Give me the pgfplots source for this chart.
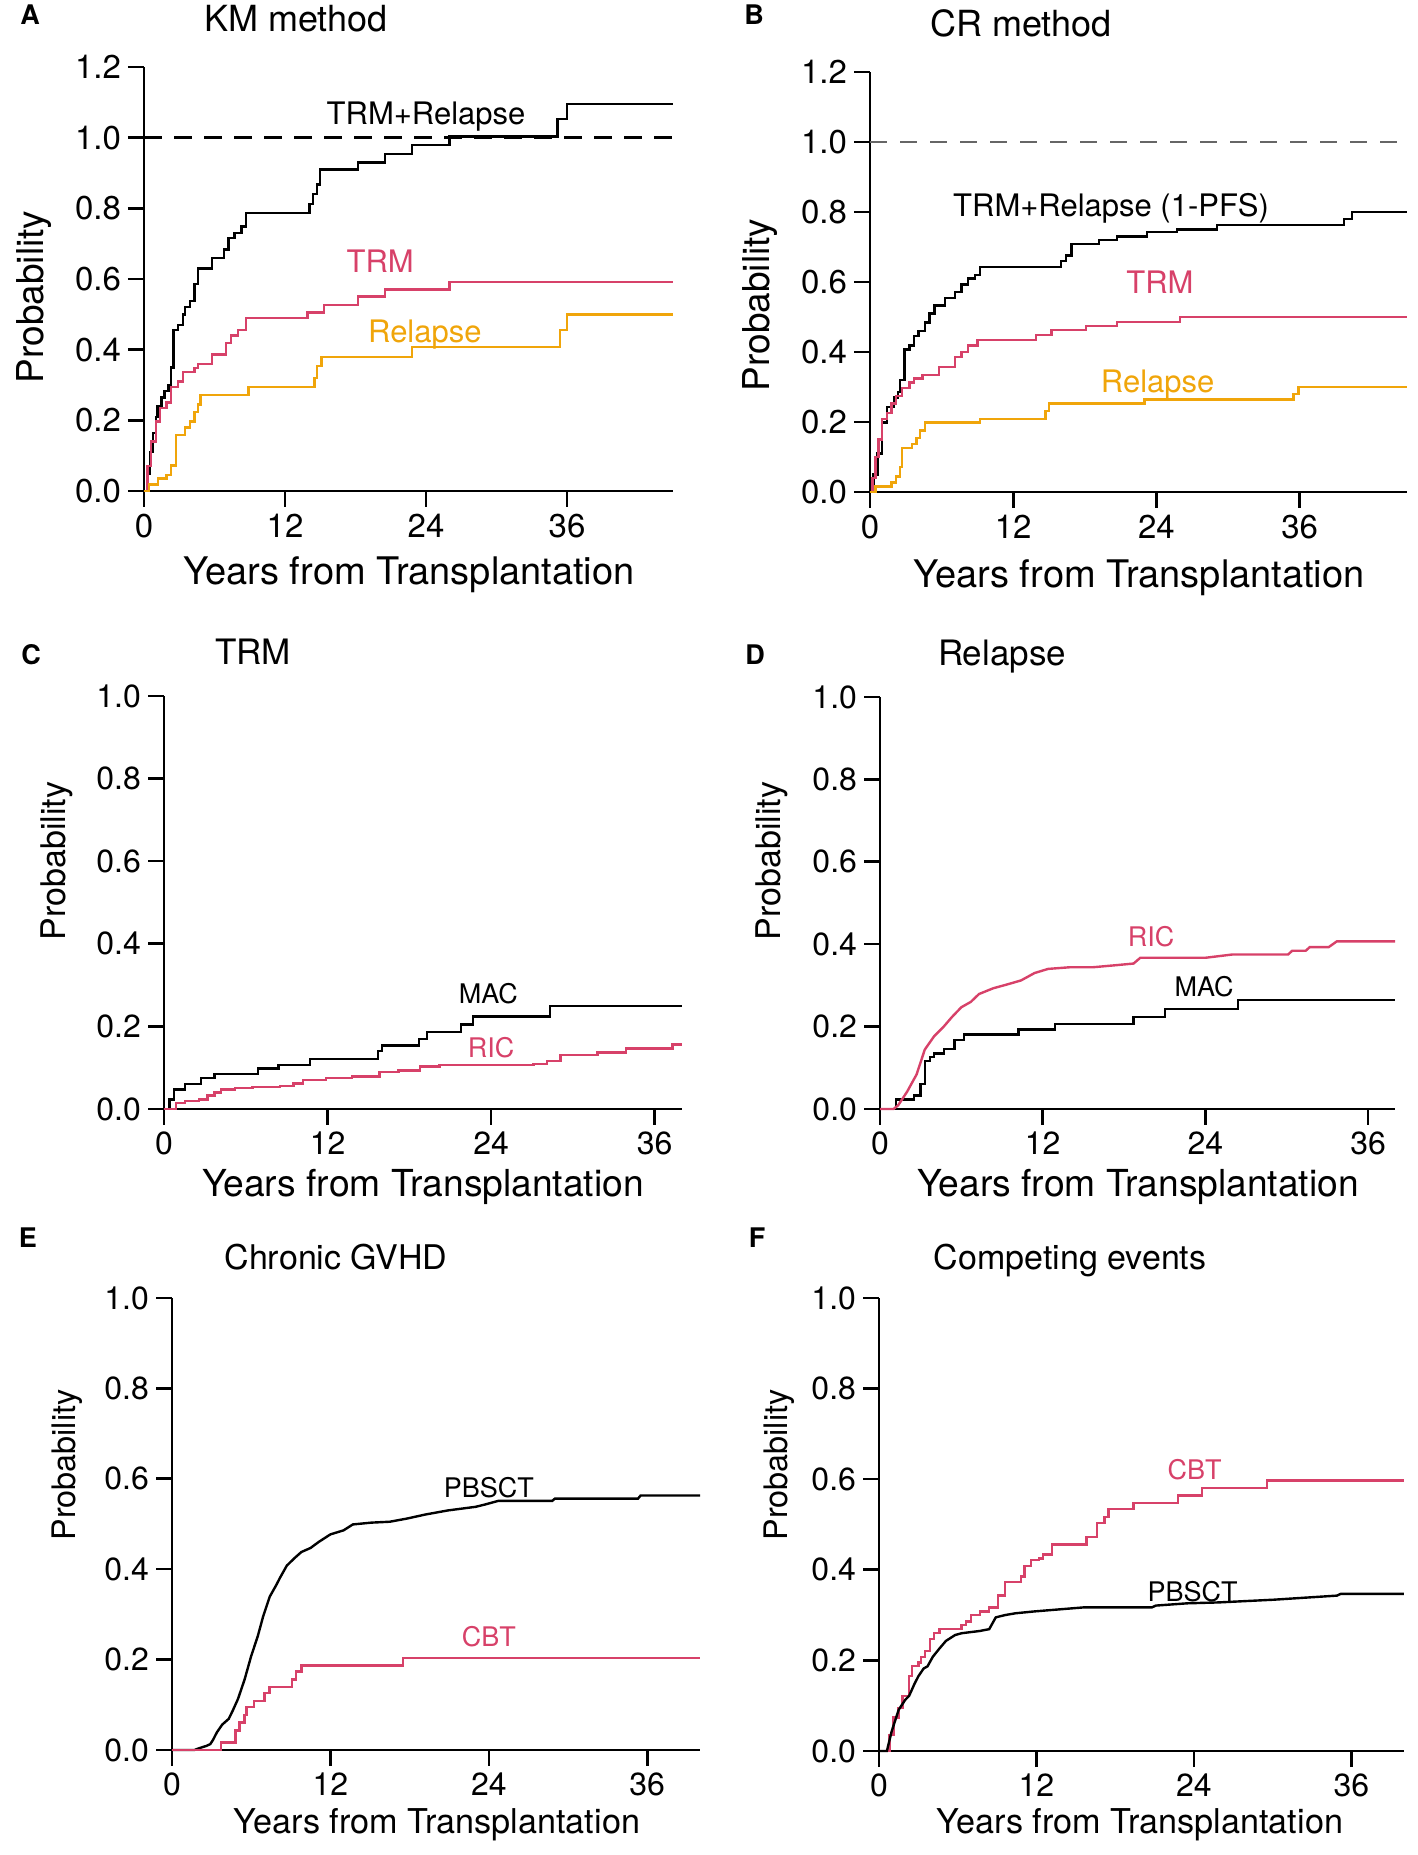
\documentclass[border=0pt]{standalone}
\usepackage{fontspec}
\setmainfont{TeX Gyre Heros}
\usepackage{pgfplots}
\pgfplotsset{compat=1.18}
\definecolor{kpink}{RGB}{215,65,105}
\definecolor{korange}{RGB}{240,165,10}
\newcommand{\fs}[1]{\fontsize{#1}{#1}\selectfont}
\pgfplotsset{
  km/.style={
    scale only axis, axis lines=left, axis line style={-, line width=1.35pt},
    tick align=outside, major tick length=8pt,
    tick style={line width=1.3pt, black},
    xmin=0, ymin=0, xtick={0,12,24,36},
    /pgf/number format/assume math mode=true,
    ticklabel style={font=\fs{16.5}},
    yticklabel style={/pgf/number format/.cd, fixed, fixed zerofill, precision=1},
    clip=false, anchor=south west,
  },
  curve/.style={line width=1.2pt},
}
\begin{document}
\begin{tikzpicture}
\path[use as bounding box] (0,0) rectangle (708.5pt,927.5pt);
% ---------------- A ----------------
\begin{axis}[km, at={(72pt,682pt)}, width=264.4pt, height=212pt,
  xmax=45, ymax=1.2, ytick={0,0.2,0.4,0.6,0.8,1.0,1.2}]
\addplot[black, line width=1.2pt, dash pattern=on 9pt off 6pt] coordinates {(0,1) (45,1)};
\addplot[const plot, curve, black] coordinates {(0,0)(0.25,0.05)(0.5,0.11)(0.77,0.164)(1.0,0.21)(1.16,0.24)(1.5,0.265)(1.74,0.283)(2.1,0.30)(2.3,0.35)(2.5,0.456)(2.9,0.47)(3.3,0.50)(3.5,0.52)(3.9,0.537)(4.3,0.586)(4.6,0.63)(5.8,0.66)(6.8,0.683)(7.2,0.716)(7.7,0.73)(8.3,0.748)(8.7,0.786)(14.1,0.813)(14.4,0.84)(14.7,0.867)(15.0,0.91)(18.2,0.93)(20.5,0.954)(22.8,0.98)(26.0,1.003)(35.2,1.053)(36.0,1.096)(45,1.096)};
\addplot[const plot, curve, kpink] coordinates {(0,0)(0.3,0.07)(0.6,0.14)(1.0,0.197)(1.35,0.235)(1.9,0.25)(2.3,0.294)(2.9,0.31)(3.3,0.337)(4.3,0.348)(4.6,0.359)(5.8,0.386)(7.0,0.418)(7.4,0.44)(8.0,0.456)(8.7,0.489)(13.9,0.505)(15.3,0.527)(18.2,0.55)(20.5,0.57)(26.0,0.591)(45,0.591)};
\addplot[const plot, curve, korange] coordinates {(0,0)(0.4,0.018)(1.2,0.035)(1.9,0.045)(2.3,0.072)(2.7,0.159)(3.5,0.18)(3.9,0.197)(4.3,0.224)(4.6,0.245)(4.8,0.272)(8.9,0.294)(14.5,0.32)(14.7,0.354)(15.1,0.38)(22.8,0.408)(35.4,0.456)(36.0,0.50)(45,0.50)};
\node[font=\fs{15.5}] at (axis cs:24,1.06) {TRM+Relapse};
\node[font=\fs{15.5}, text=kpink] at (axis cs:20.1,0.65) {TRM};
\node[font=\fs{15.5}, text=korange] at (axis cs:23.9,0.443) {Relapse};
\end{axis}
% ---------------- B ----------------
\begin{axis}[km, at={(435pt,681.5pt)}, width=268.5pt, height=210pt,
  xmax=45, ymax=1.2, ytick={0,0.2,0.4,0.6,0.8,1.0,1.2}]
\addplot[gray!80!black, line width=1.2pt, dash pattern=on 8.5pt off 6.5pt] coordinates {(0,1) (45,1)};
\addplot[const plot, curve, black] coordinates {(0,0)(0.3,0.05)(0.64,0.11)(1.0,0.198)(1.4,0.242)(2.0,0.27)(2.35,0.286)(2.5,0.32)(2.9,0.407)(3.3,0.418)(3.7,0.445)(4.05,0.46)(4.6,0.484)(5.0,0.51)(5.4,0.533)(6.3,0.555)(7.1,0.571)(7.65,0.593)(8.2,0.61)(8.8,0.62)(9.2,0.643)(16.0,0.66)(16.4,0.676)(16.9,0.709)(19.2,0.72)(20.7,0.73)(23.2,0.742)(25.7,0.75)(29.1,0.762)(39.7,0.78)(40.4,0.80)(45,0.80)};
\addplot[const plot, curve, kpink] coordinates {(0,0)(0.2,0.04)(0.45,0.1)(0.7,0.15)(1.0,0.209)(1.4,0.225)(1.8,0.253)(2.2,0.275)(2.7,0.297)(3.3,0.313)(3.7,0.324)(4.4,0.335)(5.8,0.357)(7.1,0.385)(7.65,0.40)(8.2,0.418)(9.0,0.434)(13.9,0.448)(15.2,0.462)(18.1,0.475)(20.7,0.486)(26.0,0.50)(45,0.50)};
\addplot[const plot, curve, korange] coordinates {(0,0)(0.45,0.016)(1.8,0.027)(2.2,0.044)(2.5,0.071)(2.7,0.126)(3.5,0.137)(3.9,0.154)(4.2,0.176)(4.6,0.198)(9.2,0.209)(14.7,0.231)(15.0,0.253)(23.0,0.264)(35.5,0.28)(35.9,0.30)(45,0.30)};
\node[font=\fs{15.5}] at (axis cs:20.2,0.81) {TRM+Relapse (1-PFS)};
\node[font=\fs{15.5}, text=kpink] at (axis cs:24.3,0.60) {TRM};
\node[font=\fs{15.5}, text=korange] at (axis cs:24.1,0.306) {Relapse};
\end{axis}
% ---------------- C ----------------
\begin{axis}[km, at={(82pt,373pt)}, width=259pt, height=206.5pt,
  xmax=38, ymax=1.0, ytick={0,0.2,0.4,0.6,0.8,1.0}, ticklabel style={font=\fs{16}}]
\addplot[const plot, curve, black] coordinates {(0,0)(0.4,0.023)(0.73,0.047)(1.56,0.06)(2.7,0.075)(3.7,0.084)(6.9,0.098)(8.4,0.107)(10.7,0.121)(15.7,0.14)(16.0,0.154)(18.7,0.17)(19.3,0.186)(21.8,0.205)(22.65,0.224)(28.3,0.249)(38,0.249)};
\addplot[const plot, curve, kpink] coordinates {(0,0)(0.9,0.014)(1.56,0.019)(2.56,0.023)(3.2,0.033)(3.7,0.04)(4.2,0.047)(5.2,0.051)(6.5,0.053)(8.5,0.056)(9.5,0.062)(10.2,0.07)(11.9,0.075)(13.8,0.079)(15.8,0.089)(17.2,0.093)(18.8,0.103)(20.2,0.107)(27.1,0.109)(28.1,0.116)(29.1,0.13)(31.8,0.137)(33.9,0.146)(37.3,0.156)(38,0.156)};
\node[font=\fs{13.5}] at (axis cs:23.8,0.28) {MAC};
\node[font=\fs{13.5}, text=kpink] at (axis cs:24.0,0.149) {RIC};
\end{axis}
% ---------------- D ----------------
\begin{axis}[km, at={(440pt,373pt)}, width=257.6pt, height=206pt,
  xmax=38, ymax=1.0, ytick={0,0.2,0.4,0.6,0.8,1.0}, ticklabel style={font=\fs{16}}]
\addplot[const plot, curve, black] coordinates {(0,0)(1.17,0.023)(2.5,0.033)(3.0,0.06)(3.3,0.116)(3.7,0.126)(4.0,0.135)(4.7,0.146)(5.5,0.167)(6.2,0.181)(10.2,0.193)(12.9,0.207)(18.7,0.223)(21.0,0.242)(26.4,0.265)(38,0.265)};
\addplot[curve, kpink] coordinates {(0,0)(1.0,0)(1.34,0.009)(2.0,0.042)(2.7,0.084)(3.3,0.144)(4.0,0.177)(4.7,0.20)(5.3,0.223)(6.0,0.247)(6.7,0.26)(7.3,0.279)(8.35,0.293)(9.35,0.302)(10.4,0.312)(11.4,0.33)(12.4,0.34)(14.0,0.344)(15.7,0.344)(17.4,0.349)(18.7,0.353)(19.2,0.367)(24.0,0.367)(26.0,0.375)(30.1,0.375)(30.4,0.384)(31.4,0.384)(31.7,0.393)(33.1,0.393)(33.7,0.407)(38,0.407)};
\node[font=\fs{13.5}, text=kpink] at (axis cs:20.0,0.419) {RIC};
\node[font=\fs{13.5}] at (axis cs:23.9,0.298) {MAC};
\end{axis}
% ---------------- E ----------------
\begin{axis}[km, at={(86pt,52.5pt)}, width=264pt, height=226pt,
  xmax=40, ymax=1.0, ytick={0,0.2,0.4,0.6,0.8,1.0}, ticklabel style={font=\fs{16}}]
\addplot[curve, black] coordinates {(0,0)(1.7,0)(2.06,0.004)(2.6,0.009)(2.9,0.013)(3.1,0.022)(3.4,0.039)(3.8,0.056)(4.3,0.069)(4.6,0.087)(5.0,0.113)(5.5,0.156)(6.0,0.208)(6.5,0.252)(6.9,0.295)(7.4,0.339)(7.9,0.365)(8.2,0.382)(8.7,0.408)(9.3,0.425)(9.8,0.438)(10.5,0.447)(11.1,0.46)(12.0,0.477)(13.0,0.486)(13.7,0.499)(15.1,0.503)(16.5,0.505)(17.8,0.512)(19.2,0.521)(20.9,0.53)(23.0,0.538)(23.7,0.543)(24.7,0.551)(28.8,0.551)(29.0,0.556)(35.3,0.556)(35.5,0.563)(40,0.563)};
\addplot[const plot, curve, kpink] coordinates {(0,0)(3.7,0.017)(4.8,0.043)(5.1,0.061)(5.5,0.078)(5.65,0.095)(6.2,0.109)(7.0,0.126)(7.4,0.139)(9.1,0.156)(9.4,0.174)(9.8,0.187)(17.5,0.204)(40,0.204)};
\node[font=\fs{13.5}] at (axis cs:24,0.58) {PBSCT};
\node[font=\fs{13.5}, text=kpink] at (axis cs:24,0.25) {CBT};
\end{axis}
% ---------------- F ----------------
\begin{axis}[km, at={(439.5pt,52pt)}, width=262.4pt, height=226.5pt,
  xmax=40, ymax=1.0, ytick={0,0.2,0.4,0.6,0.8,1.0}, ticklabel style={font=\fs{16}}]
\addplot[const plot, curve, kpink] coordinates {(0,0)(0.8,0.035)(1.1,0.074)(1.5,0.095)(1.8,0.122)(2.3,0.165)(2.5,0.187)(3.0,0.195)(3.2,0.208)(3.5,0.221)(3.9,0.247)(4.2,0.26)(4.6,0.269)(6.3,0.278)(6.65,0.286)(7.0,0.30)(7.7,0.308)(8.4,0.317)(9.05,0.343)(9.6,0.373)(10.8,0.385)(11.1,0.408)(11.6,0.421)(12.2,0.425)(12.5,0.434)(13.2,0.456)(15.8,0.473)(16.6,0.503)(17.2,0.516)(17.5,0.534)(19.4,0.547)(22.8,0.564)(24.6,0.581)(29.55,0.597)(40,0.597)};
\addplot[curve, black] coordinates {(0,0)(0.6,0)(0.96,0.043)(1.5,0.091)(2.0,0.113)(2.3,0.122)(2.7,0.148)(3.0,0.165)(3.4,0.182)(3.7,0.187)(4.1,0.208)(4.6,0.226)(5.1,0.243)(5.8,0.256)(6.3,0.26)(7.7,0.265)(8.4,0.269)(8.9,0.295)(9.6,0.30)(10.4,0.304)(11.8,0.308)(13.9,0.313)(15.6,0.317)(20.8,0.317)(21.1,0.321)(23.5,0.326)(25.9,0.328)(30.1,0.334)(34.9,0.343)(35.2,0.347)(40,0.347)};
\node[font=\fs{13.5}, text=kpink] at (axis cs:24.05,0.62) {CBT};
\node[font=\fs{13.5}] at (axis cs:23.9,0.352) {PBSCT};
\end{axis}
% ---------------- panel letters ----------------
\node[anchor=base, font=\fs{13.5}\bfseries] at (15pt,915pt) {A};
\node[anchor=base, font=\fs{13.5}\bfseries] at (377pt,915pt) {B};
\node[anchor=base, font=\fs{13.5}\bfseries] at (15.5pt,595pt) {C};
\node[anchor=base, font=\fs{13.5}\bfseries] at (377.5pt,595pt) {D};
\node[anchor=base, font=\fs{13.5}\bfseries] at (14pt,303.5pt) {E};
\node[anchor=base, font=\fs{13.5}\bfseries] at (378.5pt,303.5pt) {F};
% ---------------- titles ----------------
\node[anchor=base, font=\fs{18}] at (148pt,911.5pt) {KM method};
\node[anchor=base, font=\fs{18}] at (510.5pt,909pt) {CR method};
\node[anchor=base, font=\fs{17.5}] at (126.5pt,595pt) {TRM};
\node[anchor=base, font=\fs{17.5}] at (501pt,594.5pt) {Relapse};
\node[anchor=base, font=\fs{17}] at (168pt,292.5pt) {Chronic GVHD};
\node[anchor=base, font=\fs{17}] at (535pt,292.5pt) {Competing events};
% ---------------- x labels ----------------
\node[anchor=base, font=\fs{19}] at (204.5pt,635pt) {Years from Transplantation};
\node[anchor=base, font=\fs{19}] at (569.5pt,633.5pt) {Years from Transplantation};
\node[anchor=base, font=\fs{18.6}] at (211.5pt,329pt) {Years from Transplantation};
\node[anchor=base, font=\fs{18.6}] at (569pt,329pt) {Years from Transplantation};
\node[anchor=base, font=\fs{17.1}] at (218.5pt,10.5pt) {Years from Transplantation};
\node[anchor=base, font=\fs{17.1}] at (570pt,10.5pt) {Years from Transplantation};
% ---------------- y labels ----------------
\node[rotate=90, font=\fs{18.5}] at (17pt,779pt) {Probability};
\node[rotate=90, font=\fs{18.5}] at (380pt,775pt) {Probability};
\node[rotate=90, font=\fs{17}] at (28.5pt,497pt) {Probability};
\node[rotate=90, font=\fs{17}] at (386pt,497pt) {Probability};
\node[rotate=90, font=\fs{16.2}] at (33.5pt,195pt) {Probability};
\node[rotate=90, font=\fs{16.2}] at (389.5pt,195pt) {Probability};
\end{tikzpicture}
\end{document}
